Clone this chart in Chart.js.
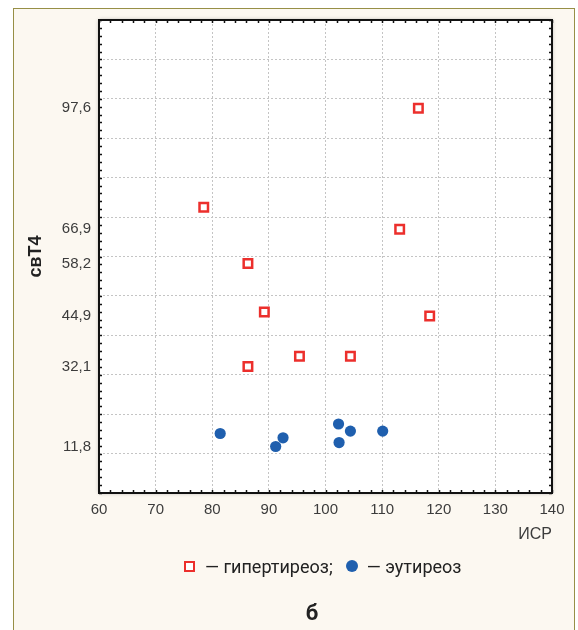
<!DOCTYPE html>
<html>
<head>
<meta charset="utf-8">
<script src="https://cdn.jsdelivr.net/npm/chart.js@4.4.0/dist/chart.umd.min.js"></script>
<style>
  html, body { margin: 0; padding: 0; background: #ffffff; }
  body { width: 578px; height: 630px; position: relative; overflow: hidden; }
  .frame {
    position: absolute; left: 13px; top: 8px; width: 560px; height: 660px;
    border: 1px solid #978f46; background: #fcf8f1;
  }
  .wrap { position: absolute; left: 0; top: 0; width: 578px; height: 630px; }
  .legend {
    position: absolute; left: 184px; top: 554px; height: 24px;
    display: flex; align-items: center; white-space: nowrap;
    font-family: Roboto, "Liberation Sans", sans-serif; font-size: 18px; color: #222;
  }
  .legend .sq { width: 7px; height: 7px; border: 2px solid #ec2f2c; background: #fff; margin-right: 10px; }
  .legend .dot { width: 12px; height: 12px; border-radius: 50%; background: #1f5fae; margin: 0 9px 0 13px; }
  .caption {
    position: absolute; left: 292px; width: 40px; top: 600px; text-align: center;
    font-family: Roboto, "Liberation Sans", sans-serif; font-weight: bold; font-size: 22px; color: #222;
  }
</style>
</head>
<body>
<div class="frame"></div>
<div class="wrap"><canvas id="chart"></canvas></div>
<div class="legend">
  <span class="sq"></span><span class="txt">— гипертиреоз;</span>
  <span class="dot"></span><span class="txt">— эутиреоз</span>
</div>
<div class="caption">б</div>
<script>
  /* --- Data --- */
  var hyperX = [116.4, 78.5, 113.1, 86.3, 89.2, 118.4, 95.4, 104.4, 86.3];
  var hyperY = [97.6, 72.5, 66.9, 58.2, 45.9, 44.9, 34.7, 34.7, 32.1];
  var euX = [81.4, 92.5, 91.2, 102.3, 104.4, 102.4, 110.1];
  var euY = [15.1, 14.0, 11.8, 17.5, 15.7, 12.8, 15.7];

  var xTicks = [60, 70, 80, 90, 100, 110, 120, 130, 140];
  var yGrid = [0, 10, 20, 30, 40, 50, 60, 70, 80, 90, 100, 110, 120];
  var yLabels = [11.8, 32.1, 44.9, 58.2, 66.9, 97.6];

  function toPoints(xs, ys) {
    return xs.map(function (x, i) { return { x: x, y: ys[i] }; });
  }

  /* --- Plot box: white fill, black frame, small inward ticks --- */
  var plotFrame = {
    id: "plotFrame",
    beforeDraw: function (chart) {
      var a = chart.chartArea, ctx = chart.ctx;
      ctx.save();
      ctx.shadowColor = "rgba(0,0,0,0.35)";
      ctx.shadowBlur = 4;
      ctx.fillStyle = "#ffffff";
      ctx.fillRect(a.left, a.top, a.right - a.left, a.bottom - a.top);
      ctx.restore();
    },
    afterDraw: function (chart) {
      var a = chart.chartArea, ctx = chart.ctx;
      var xs = chart.scales.x, ys = chart.scales.y;
      var len = 3, v, p;
      ctx.save();
      ctx.strokeStyle = "#111";
      ctx.lineWidth = 1.5;
      ctx.beginPath();
      for (v = xs.min; v <= xs.max; v += 2) {
        p = Math.round(xs.getPixelForValue(v)) + 0.5;
        ctx.moveTo(p, a.bottom); ctx.lineTo(p, a.bottom - len);
        ctx.moveTo(p, a.top); ctx.lineTo(p, a.top + len);
      }
      for (v = ys.min; v <= ys.max; v += 2) {
        p = Math.round(ys.getPixelForValue(v)) + 0.5;
        ctx.moveTo(a.left, p); ctx.lineTo(a.left + len, p);
        ctx.moveTo(a.right, p); ctx.lineTo(a.right - len, p);
      }
      ctx.stroke();
      ctx.lineWidth = 2;
      ctx.strokeRect(a.left, a.top, a.right - a.left, a.bottom - a.top);
      ctx.restore();
    }
  };

  var tickFont = { family: '"Liberation Sans", Arial, sans-serif', size: 15 };

  new Chart(document.getElementById("chart"), {
    type: "scatter",
    data: {
      datasets: [
        {
          label: "гипертиреоз",
          data: toPoints(hyperX, hyperY),
          pointStyle: "rect",
          pointRadius: 6,
          pointHoverRadius: 6,
          borderColor: "#ec2f2c",
          backgroundColor: "#ffffff",
          borderWidth: 2.5,
        },
        {
          label: "эутиреоз",
          data: toPoints(euX, euY),
          pointStyle: "circle",
          pointRadius: 5.6,
          pointHoverRadius: 5.6,
          borderColor: "#1f5fae",
          backgroundColor: "#1f5fae",
          borderWidth: 0,
        },
      ],
    },
    options: {
      responsive: true,
      maintainAspectRatio: false,
      animation: false,
      layout: { padding: { left: 0, top: 20, right: 26, bottom: 85 } },
      plugins: {
        legend: { display: false },
        tooltip: { enabled: false },
      },
      scales: {
        x: {
          type: "linear",
          min: 60,
          max: 140,
          afterBuildTicks: function (s) {
            s.ticks = xTicks.map(function (v) { return { value: v }; });
          },
          afterFit: function (s) { s.height = 52; },
          grid: { color: "#c4c4c4", lineWidth: 1, drawTicks: false },
          border: { display: false, dash: [2, 2] },
          ticks: { padding: 8, color: "#3c3c3c", font: tickFont, maxRotation: 0 },
          title: {
            display: true,
            text: "ИСР",
            align: "end",
            color: "#3c3c3c",
            font: { family: '"Liberation Sans", Arial, sans-serif', size: 16 },
            padding: { top: 0, bottom: 1 },
          },
        },
        y: {
          type: "linear",
          min: 0,
          max: 120,
          afterBuildTicks: function (s) {
            s.ticks = yGrid.concat(yLabels).sort(function (a, b) { return a - b; })
              .map(function (v) { return { value: v }; });
          },
          afterFit: function (s) { s.width = 99; },
          grid: {
            drawTicks: false,
            lineWidth: 1,
            color: function (c) {
              return c.tick && yGrid.indexOf(c.tick.value) >= 0 ? "#c4c4c4" : "rgba(0,0,0,0)";
            },
          },
          border: { display: false, dash: [2, 2] },
          ticks: {
            padding: 8,
            autoSkip: false,
            color: "#3c3c3c",
            font: tickFont,
            callback: function (v) {
              return yLabels.indexOf(v) >= 0 ? String(v).replace(".", ",") : "";
            },
          },
          title: {
            display: true,
            text: "свТ4",
            color: "#222",
            font: { family: '"Liberation Sans", Arial, sans-serif', size: 18, weight: "bold" },
            padding: { top: 25, bottom: 0 },
          },
        },
      },
    },
    plugins: [plotFrame],
  });
</script>
</body>
</html>
